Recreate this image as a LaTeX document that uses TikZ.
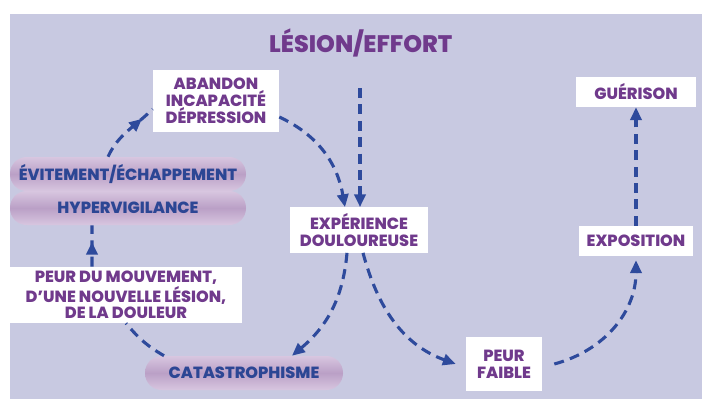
\documentclass[tikz,border=0pt]{standalone}
\usepackage{fontspec}
\setmainfont{Poppins}[BoldFont={Poppins ExtraBold}]
\usetikzlibrary{arrows.meta,decorations.markings}
\definecolor{bgviolet}{RGB}{200,201,225}
\definecolor{txtpurple}{RGB}{112,58,140}
\definecolor{txtblue}{RGB}{44,70,148}
\definecolor{flowblue}{RGB}{46,74,156}
\definecolor{pillmid}{RGB}{186,160,198}
\definecolor{pilledge}{RGB}{216,198,224}

\begin{document}
\begin{tikzpicture}[
  >={Triangle[length=0.32cm,width=0.28cm]},
  box/.style={fill=white, inner sep=1pt, align=center, text=txtpurple,
              font=\fontsize{11.5}{12}\selectfont\bfseries},
  pill/.style={rounded corners=0.42cm, top color=pilledge, bottom color=pilledge,
               middle color=pillmid, minimum width=5.9cm, minimum height=0.85cm,
               inner sep=0pt, text=txtblue, font=\fontsize{11.5}{12}\selectfont\bfseries},
  flow/.style={->, draw=flowblue, line width=2.2pt, dash pattern=on 0.25cm off 0.16cm},
  midtip/.style={-, postaction={decorate}, decoration={markings,
                 mark=at position #1 with {\arrow[flowblue]{>}}}}
]
  \useasboundingbox (0,0) rectangle (17.55,-9.975);
  \fill[bgviolet] (0.25,-0.35) rectangle (17.55,-9.975);

  \node[font=\fontsize{17}{17}\selectfont\bfseries, text=txtpurple] (title) at (9.02,-1.08) {LÉSION/EFFORT};
  \node[box, minimum width=3.15cm, minimum height=1.55cm] (aband) at (5.4,-2.525) {ABANDON\\INCAPACITÉ\\DÉPRESSION};
  \node[box, minimum width=3.0cm, minimum height=0.75cm] (guer) at (15.9,-2.3) {GUÉRISON};
  \node[box, minimum width=3.45cm, minimum height=1.13cm] (exper) at (8.975,-5.75) {EXPÉRIENCE\\DOULOUREUSE};
  \node[box, minimum width=2.85cm, minimum height=0.75cm] (expo) at (15.9,-6.025) {EXPOSITION};
  \node[pill] (hyper) at (3.2,-5.2) {HYPERVIGILANCE};
  \node[pill] (evit)  at (3.2,-4.35) {ÉVITEMENT/ÉCHAPPEMENT};
  \node[box, minimum width=5.8cm, minimum height=1.4cm] (peur) at (3.15,-7.375) {PEUR DU MOUVEMENT,\\D’UNE NOUVELLE LÉSION,\\DE LA DOULEUR};
  \node[pill, minimum width=4.95cm] (cata) at (6.1,-9.325) {CATASTROPHISME};
  \node[box, minimum width=1.9cm, minimum height=1.35cm] (faible) at (12.6,-9.1) {PEUR\\FAIBLE};
  \coordinate (lesion) at (9.0,-2.2);

  % cercle vicieux
  \draw[flow, midtip=0.78] ([xshift=-0.5cm]evit.north) to[out=65,in=-135] ([yshift=-0.2cm]aband.west);
  \draw[flow] ([yshift=-0.4cm]aband.east) to[out=-25,in=100] ([xshift=-0.35cm]exper.north);
  \draw[flow] (lesion) -- (lesion |- exper.north);
  \draw[flow] ([xshift=-0.3cm]exper.south) to[out=-95,in=40] ([xshift=1.2cm]cata.north);
  \draw[flow, -] ([xshift=-2cm]cata.north) to[out=150,in=-50] (peur.south);
  \draw[flow, midtip=0.6] ([xshift=-0.85cm]peur.north) -- ([xshift=-0.9cm]hyper.south);
  % voie de la guerison
  \draw[flow] ([xshift=0.1cm]exper.south) to[out=-75,in=160] ([xshift=-0.25cm]faible.west);
  \draw[flow] ([xshift=0.3cm]faible.east) to[out=15,in=-90] ([yshift=-0.1cm]expo.south);
  \draw[flow] (expo.north) -- (expo.north |- guer.south);
\end{tikzpicture}
\end{document}
